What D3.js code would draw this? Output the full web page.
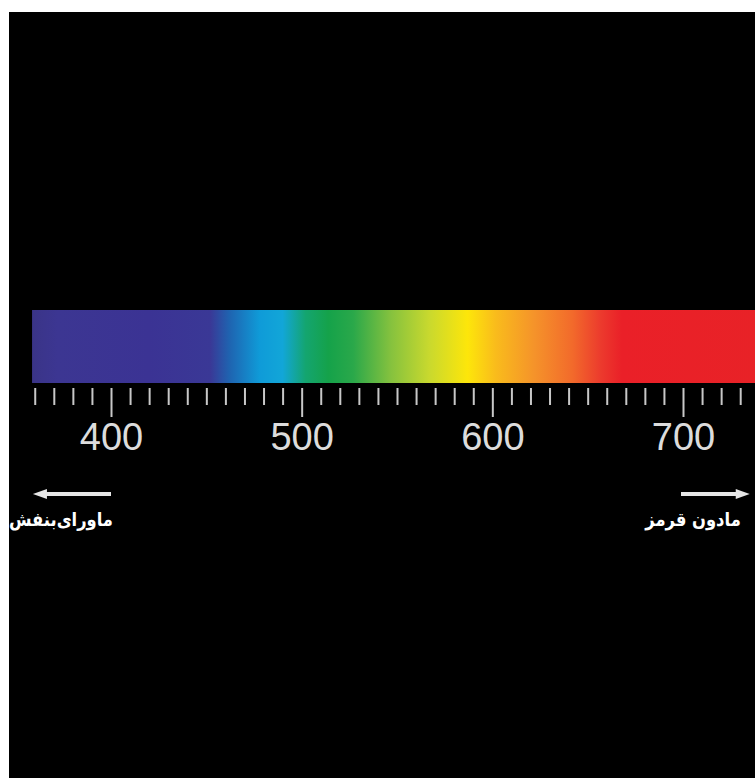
<!DOCTYPE html>
<html>
<head>
<meta charset="utf-8">
<script src="https://cdn.jsdelivr.net/npm/d3@7"></script>
<style>
  html, body { margin: 0; padding: 0; background: #fff; }
  svg { display: block; }
</style>
</head>
<body>
<div id="chart"></div>
<script>
// spectrum colour stops (wavelength in nm -> colour)
const stopWavelengths = [358, 372, 420, 452, 462, 478, 490, 502, 514, 527, 547, 567, 587, 602, 622, 642, 657, 668, 740];
const stopColors = ["#3a3487", "#3c3692", "#3b3394", "#3a3896", "#1f63b0", "#0f9bd8", "#12a6d8", "#14a570", "#15a24a", "#2aa84a", "#86c23e", "#c9d92e", "#fde60a", "#f9bb1c", "#f5932a", "#f26a2b", "#ec3a2d", "#ea2028", "#e82227"];

// axis
const majorTicks = [400, 500, 600, 700];
const allTicks = d3.range(360, 740, 10);

// side labels
const sideLabels = ["ماورای‌بنفش", "مادون قرمز"];

function render(containerId) {
  const container = d3.select(containerId);
  container.selectAll("*").remove();

  const W = 755, H = 778;
  const svg = container.append("svg").attr("width", W).attr("height", H);

  // black panel (white margin top and left)
  svg.append("rect").attr("x", 9).attr("y", 12).attr("width", W - 9).attr("height", H - 12).attr("fill", "#000");

  const x = d3.scaleLinear().domain([400, 700]).range([111, 683]);
  const barTop = 310, barH = 73;

  // gradient
  const defs = svg.append("defs");
  const grad = defs.append("linearGradient")
    .attr("id", "spec")
    .attr("gradientUnits", "userSpaceOnUse")
    .attr("x1", x(358)).attr("x2", x(740)).attr("y1", 0).attr("y2", 0);
  const span = 740 - 358;
  grad.selectAll("stop")
    .data(stopWavelengths)
    .join("stop")
    .attr("offset", d => (d - 358) / span)
    .attr("stop-color", (d, i) => stopColors[i]);

  svg.append("rect")
    .attr("x", x(358.6))
    .attr("y", barTop)
    .attr("width", x(740) - x(358.6))
    .attr("height", barH)
    .attr("fill", "url(#spec)");

  // tick axis
  const axis = d3.axisBottom(x)
    .tickValues(allTicks)
    .tickSize(17)
    .tickFormat(d => majorTicks.includes(d) ? d : "");

  const gAxis = svg.append("g")
    .attr("transform", `translate(0,${barTop + barH + 5})`)
    .call(axis);

  gAxis.select(".domain").remove();
  gAxis.selectAll(".tick line")
    .attr("stroke", "#c8c8c8")
    .attr("stroke-width", 2)
    .attr("y2", d => majorTicks.includes(d) ? 29 : 17);
  gAxis.selectAll(".tick text")
    .attr("y", 62)
    .attr("dy", 0)
    .attr("fill", "#dcdcdc")
    .style("font-family", "Liberation Sans, Arial, sans-serif")
    .style("font-size", "38px");

  // arrows
  const arrowY = 494;
  const leftArrow = [x(358) + 2, x(400)];
  const rightArrow = [x(700) - 2, x(735)];
  svg.append("line")
    .attr("x1", leftArrow[0] + 6).attr("x2", leftArrow[1])
    .attr("y1", arrowY).attr("y2", arrowY)
    .attr("stroke", "#e6e6e6").attr("stroke-width", 4);
  svg.append("path")
    .attr("d", `M${leftArrow[0]},${arrowY} l14,-5 l0,10 z`)
    .attr("fill", "#e6e6e6");
  svg.append("line")
    .attr("x1", rightArrow[0]).attr("x2", rightArrow[1] - 6)
    .attr("y1", arrowY).attr("y2", arrowY)
    .attr("stroke", "#e6e6e6").attr("stroke-width", 4);
  svg.append("path")
    .attr("d", `M${rightArrow[1]},${arrowY} l-14,-5 l0,10 z`)
    .attr("fill", "#e6e6e6");

  // side labels (slightly condensed to match the narrow original face)
  const labelPos = [61, 693];
  svg.selectAll("text.side")
    .data(sideLabels)
    .join("text")
    .attr("class", "side")
    .attr("transform", (d, i) => `translate(${labelPos[i]},526) scale(0.86,1)`)
    .attr("text-anchor", "middle")
    .attr("fill", "#fff")
    .style("font-family", "DejaVu Sans, sans-serif")
    .style("font-weight", "bold")
    .style("font-size", "19px")
    .text(d => d);
}

render("#chart");
</script>
</body>
</html>
